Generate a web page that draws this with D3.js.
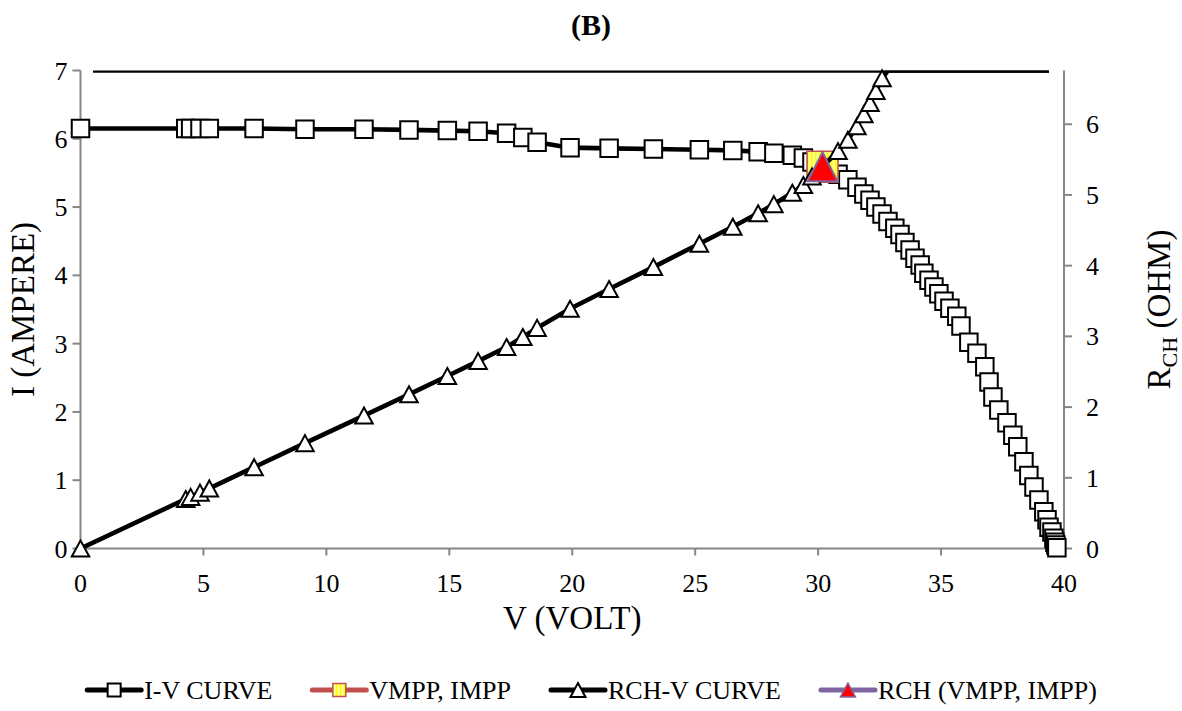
<!DOCTYPE html>
<html><head><meta charset="utf-8">
<script src="https://cdn.jsdelivr.net/npm/d3@7/dist/d3.min.js"></script>
<style>body{margin:0;background:#fff}svg{display:block}</style>
</head><body>
<svg id="chart" width="1182" height="711"></svg>
<script>
// ---------- data ----------
const voltage = [0, 4.28, 4.48, 4.86, 5.24, 7.06, 9.13, 11.53, 13.36, 14.92, 16.17, 17.33, 17.99, 18.57, 19.91, 21.5, 23.3, 25.17, 26.53, 27.56, 28.2, 28.95, 29.4, 29.75, 30.18, 30.81, 31.21, 31.58, 31.86, 32.11, 32.35, 32.6, 32.84, 33.12, 33.33, 33.53, 33.74, 33.94, 34.15, 34.3, 34.51, 34.71, 34.91, 35.12, 35.36, 35.64, 35.81, 36.13, 36.46, 36.78, 36.95, 37.11, 37.35, 37.68, 37.92, 38.12, 38.37, 38.57, 38.78, 38.98, 39.18, 39.31, 39.39, 39.51, 39.59, 39.63, 39.67, 39.71];
const current = [6.15, 6.15, 6.15, 6.15, 6.15, 6.15, 6.14, 6.14, 6.13, 6.12, 6.11, 6.08, 6.02, 5.95, 5.87, 5.86, 5.85, 5.84, 5.83, 5.81, 5.79, 5.76, 5.72, 5.66, 5.59, 5.48, 5.40, 5.29, 5.19, 5.10, 5.00, 4.90, 4.79, 4.69, 4.60, 4.48, 4.37, 4.25, 4.15, 4.03, 3.93, 3.83, 3.73, 3.62, 3.52, 3.40, 3.26, 3.02, 2.86, 2.66, 2.44, 2.22, 2.03, 1.84, 1.66, 1.49, 1.27, 1.07, 0.90, 0.71, 0.54, 0.42, 0.31, 0.24, 0.15, 0.09, 0.05, 0.01];
const rch = [0, 0.70, 0.73, 0.79, 0.85, 1.15, 1.49, 1.88, 2.18, 2.44, 2.65, 2.85, 2.99, 3.12, 3.39, 3.67, 3.98, 4.31, 4.55, 4.74, 4.87, 5.03, 5.14, 5.26, 5.40, 5.62, 5.78, 5.97, 6.14, 6.30, 6.47, 6.65, 6.86, 7.06, 7.25, 7.48, 7.72, 7.99, 8.23, 8.51, 8.78, 9.06, 9.36, 9.70, 10.05, 10.48, 10.98, 11.96, 12.75, 13.83, 15.14, 16.72, 18.40, 20.48, 22.84, 25.58, 30.21, 36.05, 43.09, 54.90, 72.56, 93.60, 127.1, null, null, null, null, null];
const mppV = [30.18];
const mppI = [5.59];
const mppR = [5.40];
// off-scale RCH values drawn clamped at the top edge
const rchOverflowV = [0.51, 39.39];
const xTicks = [0, 5, 10, 15, 20, 25, 30, 35, 40];
const iTicks = [0, 1, 2, 3, 4, 5, 6, 7];
const rTicks = [0, 1, 2, 3, 4, 5, 6];
const legendLabels = ["I-V CURVE", "VMPP, IMPP", "RCH-V CURVE", "RCH (VMPP, IMPP)"];
const titleText = "(B)";

// ---------- layout ----------
const svg = d3.select("#chart");
const L = 80.5, R = 1064, T = 70.5, B = 548.5;
const FONT = "'Liberation Serif','Times New Roman',serif";
const x = d3.scaleLinear().domain([0, 40]).range([L, R]);
const yI = d3.scaleLinear().domain([0, 7]).range([B, T]);
const yR = d3.scaleLinear().domain([0, 6.76]).range([B, T]).clamp(true);
const rMax = 6.76;

const defs = svg.append("defs");
defs.append("clipPath").attr("id", "plotclip").append("rect")
  .attr("x", L).attr("y", T).attr("width", R - L).attr("height", B - T);
const pat = defs.append("pattern").attr("id", "stripes").attr("patternUnits", "userSpaceOnUse")
  .attr("width", 4).attr("height", 4);
pat.append("rect").attr("width", 4).attr("height", 4).attr("fill", "#ffffff");
pat.append("rect").attr("width", 2.6).attr("height", 4).attr("fill", "#ffff00");

function sq(s) { return `M${-s/2},${-s/2}h${s}v${s}h${-s}Z`; }
function tri(w, h) { return `M0,${-h/2}L${w/2},${h/2}L${-w/2},${h/2}Z`; }

// title
svg.append("text").attr("x", 591).attr("y", 35).attr("text-anchor", "middle")
  .attr("font-family", FONT).attr("font-size", 30).attr("font-weight", "bold").text(titleText);

// axes
const axisColor = "#868686";
const ax = svg.append("g");
ax.append("line").attr("x1", L).attr("x2", L).attr("y1", T).attr("y2", B).attr("stroke", axisColor).attr("stroke-width", 2);
ax.append("line").attr("x1", R).attr("x2", R).attr("y1", T).attr("y2", B).attr("stroke", axisColor).attr("stroke-width", 2);
ax.append("line").attr("x1", L).attr("x2", R).attr("y1", B).attr("y2", B).attr("stroke", axisColor).attr("stroke-width", 2);

iTicks.forEach(v => {
  ax.append("line").attr("x1", L - 8).attr("x2", L).attr("y1", yI(v)).attr("y2", yI(v)).attr("stroke", axisColor).attr("stroke-width", 2);
  ax.append("text").attr("x", L - 13).attr("y", yI(v) + 9).attr("text-anchor", "end")
    .attr("font-family", FONT).attr("font-size", 26).text(v);
});
rTicks.forEach(v => {
  ax.append("line").attr("x1", R).attr("x2", R + 8).attr("y1", yR(v)).attr("y2", yR(v)).attr("stroke", axisColor).attr("stroke-width", 2);
  ax.append("text").attr("x", R + 22).attr("y", yR(v) + 9).attr("text-anchor", "start")
    .attr("font-family", FONT).attr("font-size", 26).text(v);
});
xTicks.forEach(v => {
  ax.append("line").attr("x1", x(v)).attr("x2", x(v)).attr("y1", B).attr("y2", B + 7).attr("stroke", axisColor).attr("stroke-width", 2);
  ax.append("text").attr("x", x(v)).attr("y", B + 43).attr("text-anchor", "middle")
    .attr("font-family", FONT).attr("font-size", 26).text(v);
});

// axis titles
svg.append("text").attr("x", (L + R) / 2).attr("y", 629).attr("text-anchor", "middle")
  .attr("font-family", FONT).attr("font-size", 33).text("V (VOLT)");
svg.append("text").attr("transform", `translate(34,${(T + B) / 2}) rotate(-90)`).attr("text-anchor", "middle")
  .attr("font-family", FONT).attr("font-size", 33).text("I (AMPERE)");
const rt = svg.append("text").attr("transform", `translate(1170,${(T + B) / 2}) rotate(-90)`).attr("text-anchor", "middle")
  .attr("font-family", FONT).attr("font-size", 33);
rt.append("tspan").text("R");
rt.append("tspan").attr("font-size", 22).attr("dy", 7).text("CH");
rt.append("tspan").attr("dy", -7).text(" (OHM)");

// data rows
const rows = voltage.map((v, i) => ({ v, i: current[i], r: rch[i] }));
const plot = svg.append("g");
const lineW = 4.6;

// I-V curve
plot.append("path").datum(rows).attr("clip-path", "url(#plotclip)")
  .attr("d", d3.line().x(d => x(d.v)).y(d => yI(d.i)))
  .attr("fill", "none").attr("stroke", "#000").attr("stroke-width", lineW).attr("stroke-linejoin", "round");
plot.append("g").selectAll("path").data(rows).join("path")
  .attr("transform", d => `translate(${x(d.v)},${yI(d.i)})`)
  .attr("d", sq(17.5)).attr("fill", "#fff").attr("stroke", "#000").attr("stroke-width", 2);

// MPP square
plot.append("g").selectAll("path").data(mppV.map((v, k) => ({ v, i: mppI[k] }))).join("path")
  .attr("transform", d => `translate(${x(d.v)},${yI(d.i)})`)
  .attr("d", sq(31)).attr("fill", "url(#stripes)").attr("stroke", "#c0504d").attr("stroke-width", 1.6);

// RCH-V curve
const rRows = rows.filter(d => d.r !== null);
plot.append("path").datum(rRows).attr("clip-path", "url(#plotclip)")
  .attr("d", d3.line().x(d => x(d.v)).y(d => yR(d.r)))
  .attr("fill", "none").attr("stroke", "#000").attr("stroke-width", lineW).attr("stroke-linejoin", "round");
plot.append("path").datum(rchOverflowV).attr("clip-path", "url(#plotclip)")
  .attr("d", d3.line().x(d => x(d)).y(() => yR(rMax)))
  .attr("fill", "none").attr("stroke", "#000").attr("stroke-width", lineW);
plot.append("g").selectAll("path").data(rRows.filter(d => d.r <= rMax)).join("path")
  .attr("transform", d => `translate(${x(d.v)},${yR(d.r)})`)
  .attr("d", tri(17.5, 16)).attr("fill", "#fff").attr("stroke", "#000").attr("stroke-width", 2).attr("stroke-linejoin", "miter");

// RCH at MPP
plot.append("g").selectAll("path").data(mppV.map((v, k) => ({ v, r: mppR[k] }))).join("path")
  .attr("transform", d => `translate(${x(d.v)},${yR(d.r)})`)
  .attr("d", tri(30, 29)).attr("fill", "#ff0000").attr("stroke", "#8064a2").attr("stroke-width", 2);

// legend
const legendStyles = [
  { line: "#000", marker: sq(13), fill: "#fff", stroke: "#000", sw: 2 },
  { line: "#c0504d", marker: sq(13), fill: "url(#stripes)", stroke: "#c0504d", sw: 1.5 },
  { line: "#000", marker: tri(15, 14), fill: "#fff", stroke: "#000", sw: 2 },
  { line: "#8064a2", marker: tri(15, 14), fill: "#ff0000", stroke: "#8064a2", sw: 1.5 }
];
const lg = svg.append("g");
const LY = 690, LINE = 54, GAP = 40;
const items = legendLabels.map((t, k) => {
  const g = lg.append("g");
  const st = legendStyles[k];
  g.append("line").attr("x1", 0).attr("x2", LINE).attr("y1", 0).attr("y2", 0)
    .attr("stroke", st.line).attr("stroke-width", 5).attr("stroke-linecap", "round");
  g.append("path").attr("transform", `translate(${LINE / 2},0)`).attr("d", st.marker)
    .attr("fill", st.fill).attr("stroke", st.stroke).attr("stroke-width", st.sw);
  const tx = g.append("text").attr("x", LINE + 3).attr("y", 9).attr("font-family", FONT).attr("font-size", 26).text(t);
  return { g, w: LINE + 3 + tx.node().getComputedTextLength() };
});
const total = d3.sum(items, d => d.w) + GAP * (items.length - 1);
let cx = 592 - total / 2;
items.forEach(it => { it.g.attr("transform", `translate(${cx},${LY})`); cx += it.w + GAP; });
</script>
</body></html>
